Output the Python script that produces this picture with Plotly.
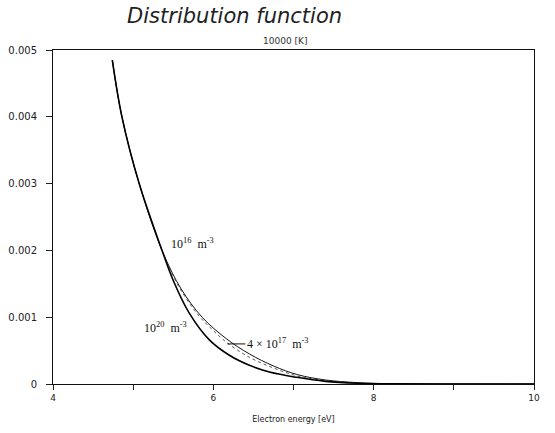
import plotly.graph_objects as go

# Electron energy [eV] and distribution function values for three electron densities
energy_1e16 = [4.74, 4.86, 5.075, 5.36, 5.60, 5.86, 6.16, 6.45, 6.75, 7.05, 7.40, 7.80, 8.20, 9.00, 10.0]
f_1e16 = [0.00485, 0.0040, 0.0030, 0.0020, 0.00142, 0.0010, 0.00068, 0.00045, 0.00027, 0.00014, 0.00006, 0.00002, 0.000005, 0.000001, 0.0]

energy_4e17 = [4.74, 4.86, 5.075, 5.36, 5.55, 5.80, 6.00, 6.18, 6.45, 6.75, 7.05, 7.40, 7.80, 8.20, 9.00, 10.0]
f_4e17 = [0.00485, 0.0040, 0.0030, 0.0020, 0.00150, 0.00105, 0.00080, 0.00061, 0.00040, 0.00024, 0.00012, 0.00005, 0.000015, 0.000004, 0.0, 0.0]

energy_1e20 = [4.74, 4.86, 5.075, 5.36, 5.50, 5.70, 5.95, 6.20, 6.45, 6.70, 7.04, 7.40, 7.80, 8.20, 9.00, 10.0]
f_1e20 = [0.00485, 0.0040, 0.0030, 0.0020, 0.00155, 0.00106, 0.00066, 0.00043, 0.00028, 0.00018, 0.00010, 0.00004, 0.000012, 0.000003, 0.0, 0.0]

x_tickvals = [4, 5, 6, 7, 8, 9, 10]
x_ticktext = ["4", "", "6", "", "8", "", "10"]
y_tickvals = [0, 0.001, 0.002, 0.003, 0.004, 0.005]
y_ticktext = ["0", "0.001", "0.002", "0.003", "0.004", "0.005"]

fig = go.Figure()
fig.add_trace(go.Scatter(x=energy_1e16, y=f_1e16, mode="lines",
                         line=dict(color="#111111", width=1, shape="spline", smoothing=1.0),
                         showlegend=False))
fig.add_trace(go.Scatter(x=energy_4e17, y=f_4e17, mode="lines",
                         line=dict(color="#555555", width=1, dash="dot", shape="spline", smoothing=1.0),
                         showlegend=False))
fig.add_trace(go.Scatter(x=energy_1e20, y=f_1e20, mode="lines",
                         line=dict(color="#000000", width=1.6, shape="spline", smoothing=1.0),
                         showlegend=False))

serif = dict(family="Liberation Serif, Times New Roman, serif", size=12, color="#111111")

fig.add_annotation(x=5.45, y=0.0021, text="10<sup>16</sup>  m<sup>-3</sup>",
                   showarrow=False, xanchor="left", yanchor="middle", font=serif)
fig.add_annotation(x=5.11, y=0.00085, text="10<sup>20</sup>  m<sup>-3</sup>",
                   showarrow=False, xanchor="left", yanchor="middle", font=serif)
fig.add_annotation(x=6.175, y=0.0006, text="4 × 10<sup>17</sup>  m<sup>-3</sup>",
                   showarrow=True, arrowhead=0, arrowwidth=1, arrowcolor="#111111",
                   ax=18, ay=0, xanchor="left", font=serif)

fig.add_annotation(x=0.483, y=1.0, xref="paper", yref="paper", text="10000 [K]",
                   showarrow=False, yanchor="bottom", yshift=2,
                   font=dict(family="DejaVu Sans, sans-serif", size=9, color="#333333"))

fig.update_layout(
    width=555, height=433,
    margin=dict(l=53, r=21, t=50, b=49),
    paper_bgcolor="white", plot_bgcolor="white",
    title=dict(text="<i>Distribution function</i>", x=0.229, xanchor="left", y=0.98, yanchor="top",
               font=dict(family="DejaVu Sans, sans-serif", size=21, color="#222222")),
    xaxis=dict(range=[4, 10], tickvals=x_tickvals, ticktext=x_ticktext, automargin=False,
               ticks="outside", ticklen=5, tickcolor="#222222",
               showline=True, linecolor="#111111", linewidth=1, mirror=True,
               showgrid=False, zeroline=False,
               tickfont=dict(family="DejaVu Sans, sans-serif", size=9, color="#222222"),
               title=dict(text="Electron energy [eV]", standoff=14,
                          font=dict(family="DejaVu Sans, sans-serif", size=8, color="#222222"))),
    yaxis=dict(range=[0, 0.005], tickvals=y_tickvals, ticktext=y_ticktext, automargin=False,
               ticks="outside", ticklen=6, tickcolor="#222222", ticklabelstandoff=7,
               showline=True, linecolor="#111111", linewidth=1, mirror=True,
               showgrid=False, zeroline=False,
               tickfont=dict(family="DejaVu Sans, sans-serif", size=10, color="#222222")),
)

fig.write_html("out.html")
